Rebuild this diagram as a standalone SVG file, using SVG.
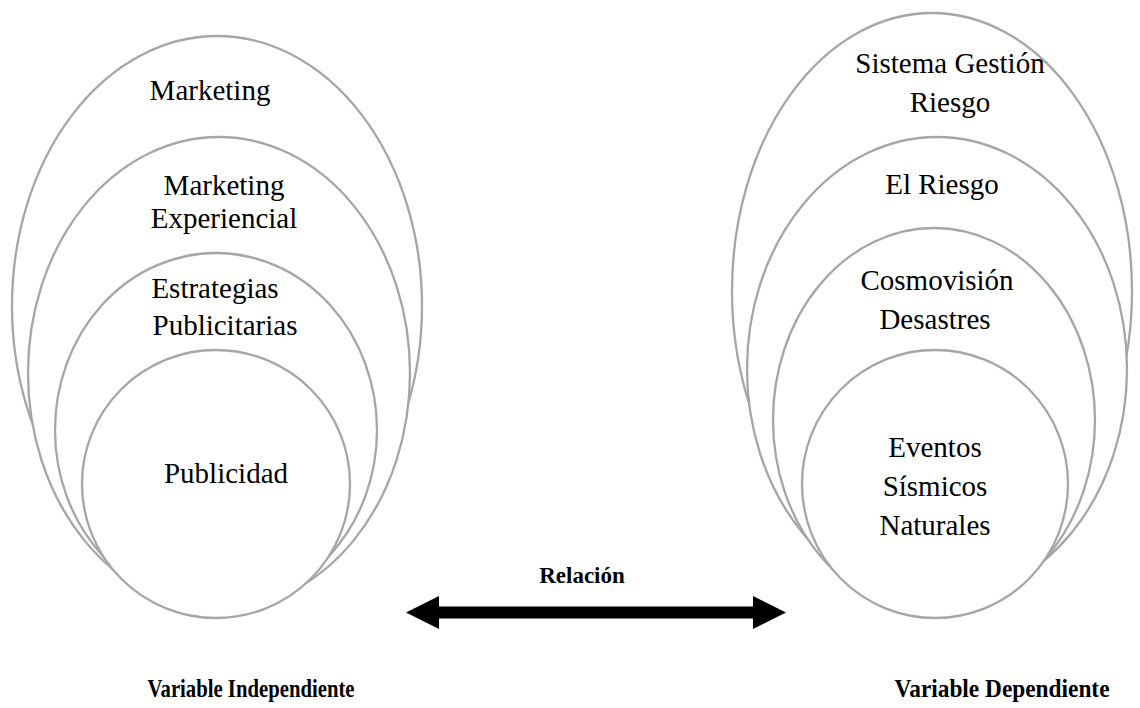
<svg xmlns="http://www.w3.org/2000/svg" width="1140" height="708" viewBox="0 0 1140 708">
  <style>
    .ring { fill: #ffffff; stroke: #a6a6a6; stroke-width: 2.3; }
    .lbl { font-family: "Liberation Serif", "Times New Roman", "DejaVu Serif", serif; font-size: 29px; fill: #000; text-anchor: middle; }
    .bold { font-family: "Liberation Serif", "Times New Roman", "DejaVu Serif", serif; font-size: 23px; font-weight: bold; fill: #000; text-anchor: middle; }
    .cap { font-size: 25px; }
  </style>
  <rect width="1140" height="708" fill="#ffffff"/>

  <!-- Independent variable: nested sets, drawn outer to inner so each
       white-filled shape hides the part of the previous one it covers -->
  <g id="marketing">
    <ellipse class="ring" cx="217" cy="306" rx="205" ry="270"/>
  </g>
  <g id="marketing-experiencial">
    <ellipse class="ring" cx="219" cy="373" rx="191" ry="236"/>
  </g>
  <g id="estrategias-publicitarias">
    <ellipse class="ring" cx="216" cy="430" rx="161" ry="177"/>
  </g>
  <g id="publicidad">
    <ellipse class="ring" cx="216" cy="484" rx="134" ry="134"/>
  </g>
  <g id="left-labels">
    <text class="lbl" x="210" y="100">Marketing</text>
    <text class="lbl" x="224" y="195">Marketing</text>
    <text class="lbl" x="224" y="228">Experiencial</text>
    <text class="lbl" x="215" y="298">Estrategias</text>
    <text class="lbl" x="225" y="335">Publicitarias</text>
    <text class="lbl" x="226" y="483">Publicidad</text>
  </g>

  <!-- Dependent variable: nested sets -->
  <g id="sistema-gestion-riesgo">
    <ellipse class="ring" cx="932" cy="291" rx="200" ry="278"/>
  </g>
  <g id="el-riesgo">
    <ellipse class="ring" cx="937" cy="369" rx="190" ry="232"/>
  </g>
  <g id="cosmovision-desastres">
    <ellipse class="ring" cx="934" cy="420" rx="161" ry="192"/>
  </g>
  <g id="eventos-sismicos">
    <ellipse class="ring" cx="935" cy="484" rx="133" ry="134"/>
  </g>
  <g id="right-labels">
    <text class="lbl" x="950" y="73">Sistema Gestión</text>
    <text class="lbl" x="950" y="112">Riesgo</text>
    <text class="lbl" x="942" y="194">El Riesgo</text>
    <text class="lbl" x="937" y="290">Cosmovisión</text>
    <text class="lbl" x="935" y="329">Desastres</text>
    <text class="lbl" x="935" y="457">Eventos</text>
    <text class="lbl" x="935" y="496">Sísmicos</text>
    <text class="lbl" x="935" y="535">Naturales</text>
  </g>

  <!-- Relation connector -->
  <g id="connectors">
    <polygon fill="#000" points="406,612.5 439,596 439,606.5 753,606.5 753,596 786,612.5 753,629 753,618.5 439,618.5 439,629"/>
    <text class="bold" x="582" y="583">Relación</text>
  </g>

  <!-- Variable captions -->
  <g id="captions">
    <text class="bold cap" x="251" y="697" textLength="207" lengthAdjust="spacingAndGlyphs">Variable Independiente</text>
    <text class="bold cap" x="1002" y="697" textLength="215" lengthAdjust="spacingAndGlyphs">Variable Dependiente</text>
  </g>
</svg>
